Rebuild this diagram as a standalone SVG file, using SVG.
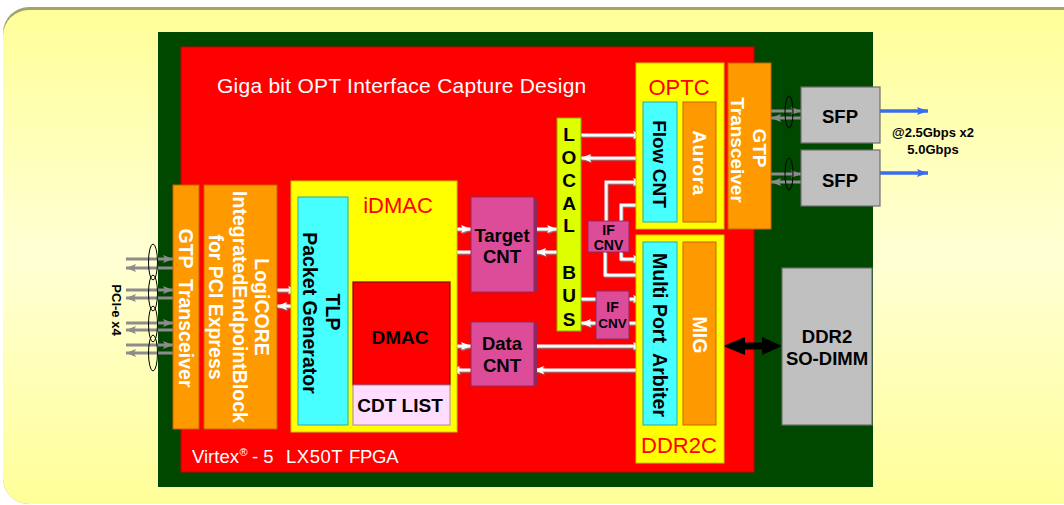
<svg xmlns="http://www.w3.org/2000/svg" width="1064" height="505" viewBox="0 0 1064 505">
<defs>
<linearGradient id="bg" x1="0" y1="0" x2="0" y2="1">
<stop offset="0" stop-color="#FFFF99"/>
<stop offset="0.5" stop-color="#FFFFD4"/>
<stop offset="1" stop-color="#FFFF99"/>
</linearGradient>
<filter id="sh" x="-20%" y="-20%" width="140%" height="140%">
<feDropShadow dx="1" dy="1.2" stdDeviation="0.3" flood-color="#8a8a8a" flood-opacity="1"/>
</filter>
<marker id="wa" markerUnits="userSpaceOnUse" markerWidth="11" markerHeight="10" refX="10" refY="5" orient="auto">
<path d="M0,1 L10,5 L0,9 L2,5 Z" fill="#FFFFFF"/>
</marker>
<marker id="ga" markerUnits="userSpaceOnUse" markerWidth="11" markerHeight="10" refX="10" refY="5" orient="auto">
<path d="M0,1 L10,5 L0,9 L2,5 Z" fill="#8C8C8C"/>
</marker>
<marker id="ba" markerUnits="userSpaceOnUse" markerWidth="12" markerHeight="10" refX="11" refY="5" orient="auto">
<path d="M0,1 L11,5 L0,9 L2,5 Z" fill="#3A6CF0"/>
</marker>
<style>
text{font-family:"Liberation Sans",Arial,Helvetica,sans-serif}
.b{font-weight:bold}
.wt{fill:#FFFFFF}
.bk{fill:#000000}
.rd{fill:#FF0000}
.yel{fill:#FFFF00;stroke:#C8C800;stroke-width:1}
.cy{fill:#48FFFF;stroke:#2AA8A8;stroke-width:1}
.or{fill:#FF9900;stroke:#C86400;stroke-width:1}
.pk{fill:#DD4C98;stroke:#8E2A62;stroke-width:1}
.gr{fill:#C0C0C0;stroke:#6E6E6E;stroke-width:1.2}
.w{fill:none;stroke:#FFFFFF;stroke-width:3}
.wm{marker-end:url(#wa)}
.g{fill:none;stroke:#8C8C8C;stroke-width:3;marker-end:url(#ga)}
.bl{fill:none;stroke:#3A6CF0;stroke-width:3.5;marker-end:url(#ba)}
.el{fill:none;stroke:#000000;stroke-width:1}
</style>
</defs>

<g id="background">
<rect x="3" y="7" width="1110" height="497" rx="26" fill="#A3A36B"/>
<rect x="3" y="10" width="1110" height="494" rx="26" fill="url(#bg)"/>
</g>

<g id="board">
<rect x="158" y="32" width="715" height="455" fill="#004800"/>
</g>

<g id="fpga">
<rect x="181" y="47" width="573" height="425" fill="#FF0000" stroke="#C80000" stroke-width="1"/>
<text x="217" y="93" class="wt" font-size="21" letter-spacing="0.25">Giga bit OPT Interface Capture Design</text>
<text y="463" class="wt" font-size="18.5"><tspan x="192">Virtex</tspan><tspan x="239.5" font-size="11" dy="-7">®</tspan><tspan x="252" dy="7">- 5</tspan><tspan x="286" letter-spacing="0.5">LX50T</tspan><tspan x="349" letter-spacing="-0.3">FPGA</tspan></text>
</g>

<g id="connectors">
<g filter="url(#sh)">
<path class="w wm" d="M348,229 H471"/>
<path class="w wm" d="M471,252 H348"/>
<path class="w wm" d="M534,229 H557"/>
<path class="w wm" d="M557,252 H536"/>
<path class="w wm" d="M450,346 H471"/>
<path class="w wm" d="M471,370 H450"/>
<path class="w wm" d="M534,346 H643"/>
<path class="w wm" d="M643,370 H534"/>
<path class="w wm" d="M581,135 H643"/>
<path class="w wm" d="M643,158 H581"/>
<path class="w wm" d="M606,221 V182 H643"/>
<path class="w" d="M643,205 H621 V221"/>
<path class="w wm" d="M621,252 V259 H643"/>
<path class="w" d="M643,275 H605 V252"/>
<path class="w wm" d="M581,299 H643"/>
<path class="w wm" d="M643,323 H581"/>
<path class="w wm" d="M277,290 H298"/>
<path class="w wm" d="M298,306 H277"/>
</g>
<path class="g" d="M126,259 H173"/>
<path class="g" d="M173,268 H126"/>
<path class="g" d="M126,290 H173"/>
<path class="g" d="M173,298 H126"/>
<path class="g" d="M126,323 H173"/>
<path class="g" d="M173,330 H126"/>
<path class="g" d="M126,345 H173"/>
<path class="g" d="M173,353 H126"/>
<path class="g" d="M771,111 H801"/>
<path class="g" d="M801,118 H771"/>
<path class="g" d="M771,174 H801"/>
<path class="g" d="M801,182 H771"/>
<path class="bl" d="M880,111 H928"/>
<path class="bl" d="M880,173 H928"/>
<path d="M723,346 L745,337 L745,342.5 L762,342.5 L762,337 L782,346 L762,355 L762,349.5 L745,349.5 L745,355 Z" fill="#000000"/>
<ellipse class="el" cx="153" cy="262" rx="4.5" ry="18"/>
<ellipse class="el" cx="153" cy="293" rx="4.5" ry="18"/>
<ellipse class="el" cx="153" cy="324" rx="4.5" ry="18"/>
<ellipse class="el" cx="153" cy="353" rx="4.5" ry="18"/>
<ellipse class="el" cx="789" cy="112" rx="4" ry="16"/>
<ellipse class="el" cx="789" cy="174" rx="4" ry="16"/>
</g>

<g id="pcie-label">
<text transform="translate(116,310) rotate(90)" y="4.5" text-anchor="middle" class="b bk" font-size="13">PCI-e x4</text>
</g>

<g id="gtp-left">
<rect x="173" y="185" width="26" height="244" class="or"/>
<text transform="translate(186,308) rotate(90)" y="7" text-anchor="middle" class="b wt" font-size="19.5" xml:space="preserve">GTP  Transceiver</text>
</g>

<g id="logicore">
<rect x="204" y="185" width="73" height="244" class="or"/>
<text transform="translate(262,307) rotate(90)" y="7" text-anchor="middle" class="b wt" font-size="19.5">LogiCORE</text>
<text transform="translate(240,307) rotate(90)" y="7" text-anchor="middle" class="b wt" font-size="19.5">IntegratedEndpointBlock</text>
<text transform="translate(216,307) rotate(90)" y="7" text-anchor="middle" class="b wt" font-size="19.5">for PCI Express</text>
</g>

<g id="idmac">
<rect x="291" y="181" width="166" height="251" class="yel"/>
<text x="398" y="213" text-anchor="middle" class="rd" font-size="22">iDMAC</text>
</g>

<g id="tlp">
<rect x="298" y="197" width="50" height="228" class="cy"/>
<text transform="translate(333,312) rotate(90)" y="7" text-anchor="middle" class="b bk" font-size="19.5">TLP</text>
<text transform="translate(310,313) rotate(90)" y="7" text-anchor="middle" class="b bk" font-size="19.5">Packet Generator</text>
</g>

<g id="dmac">
<rect x="353" y="282" width="97" height="103" fill="#FF0000" stroke="#8E0000" stroke-width="1.2"/>
<text x="400" y="344" text-anchor="middle" class="b bk" font-size="19">DMAC</text>
</g>

<g id="cdt-list">
<rect x="353" y="385" width="97" height="40" fill="#FFDDFF" stroke="#B080B0" stroke-width="1"/>
<text x="400" y="412" text-anchor="middle" class="b bk" font-size="19">CDT LIST</text>
</g>

<g id="target-cnt">
<rect x="534" y="199" width="3" height="93" fill="#8E2A62"/>
<rect x="471" y="197" width="63" height="95" class="pk"/>
<text x="502" y="242" text-anchor="middle" class="b bk" font-size="18.5">Target</text>
<text x="502" y="263" text-anchor="middle" class="b bk" font-size="18.5">CNT</text>
</g>

<g id="data-cnt">
<rect x="534" y="324" width="3" height="62" fill="#8E2A62"/>
<rect x="471" y="322" width="63" height="64" class="pk"/>
<text x="502" y="350" text-anchor="middle" class="b bk" font-size="18.5">Data</text>
<text x="502" y="372" text-anchor="middle" class="b bk" font-size="18.5">CNT</text>
</g>

<g id="local-bus">
<rect x="557" y="118" width="24" height="213" fill="#DDFF00" stroke="#8FB000" stroke-width="1"/>
<text x="569" y="141" text-anchor="middle" class="b bk" font-size="19">L</text>
<text x="569" y="164" text-anchor="middle" class="b bk" font-size="19">O</text>
<text x="569" y="187" text-anchor="middle" class="b bk" font-size="19">C</text>
<text x="569" y="210" text-anchor="middle" class="b bk" font-size="19">A</text>
<text x="569" y="232" text-anchor="middle" class="b bk" font-size="19">L</text>
<text x="569" y="279" text-anchor="middle" class="b bk" font-size="19">B</text>
<text x="569" y="302" text-anchor="middle" class="b bk" font-size="19">U</text>
<text x="569" y="326" text-anchor="middle" class="b bk" font-size="19">S</text>
</g>

<g id="if-cnv-1">
<rect x="588" y="221" width="41" height="31" class="pk"/>
<text x="608.5" y="235" text-anchor="middle" class="b bk" font-size="14">IF</text>
<text x="608.5" y="250" text-anchor="middle" class="b bk" font-size="14">CNV</text>
</g>

<g id="if-cnv-2">
<rect x="596" y="291" width="33" height="48" class="pk"/>
<text x="612.5" y="312" text-anchor="middle" class="b bk" font-size="14">IF</text>
<text x="612.5" y="328" text-anchor="middle" class="b bk" font-size="13.5">CNV</text>
</g>

<g id="optc">
<rect x="636" y="63" width="88" height="166" class="yel"/>
<text x="679" y="95" text-anchor="middle" class="rd" font-size="22">OPTC</text>
</g>

<g id="flow-cnt">
<rect x="643" y="102" width="34" height="120" class="cy"/>
<text transform="translate(660,164) rotate(90)" y="7" text-anchor="middle" class="b bk" font-size="19">Flow CNT</text>
</g>

<g id="aurora">
<rect x="683" y="102" width="33" height="120" class="or"/>
<text transform="translate(699.5,163) rotate(90)" y="7" text-anchor="middle" class="b wt" font-size="19" letter-spacing="0.5">Aurora</text>
</g>

<g id="gtp-right">
<rect x="728" y="63" width="43" height="166" class="or"/>
<text transform="translate(760,148) rotate(90)" y="7" text-anchor="middle" class="b wt" font-size="19">GTP</text>
<text transform="translate(738,150) rotate(90)" y="7" text-anchor="middle" class="b wt" font-size="19">Transceiver</text>
</g>

<g id="ddr2c">
<rect x="636" y="235" width="88" height="228" class="yel"/>
<text x="679" y="453" text-anchor="middle" class="rd" font-size="22">DDR2C</text>
</g>

<g id="multi-port-arbiter">
<rect x="643" y="242" width="34" height="183" class="cy"/>
<text transform="translate(660,335) rotate(90)" y="7" text-anchor="middle" class="b bk" font-size="19.5" xml:space="preserve">Multi Port  Arbiter</text>
</g>

<g id="mig">
<rect x="683" y="242" width="33" height="183" class="or"/>
<text transform="translate(699.5,335) rotate(90)" y="7" text-anchor="middle" class="b wt" font-size="19.5">MIG</text>
</g>

<g id="so-dimm">
<rect x="782" y="268" width="90" height="157" class="gr"/>
<text x="827" y="343" text-anchor="middle" class="b bk" font-size="18.5">DDR2</text>
<text x="827" y="365" text-anchor="middle" class="b bk" font-size="18.5">SO-DIMM</text>
</g>

<g id="sfp-1">
<rect x="801" y="87" width="79" height="56" class="gr"/>
<text x="840" y="123" text-anchor="middle" class="b bk" font-size="18.5">SFP</text>
</g>

<g id="sfp-2">
<rect x="801" y="150" width="79" height="56" class="gr"/>
<text x="840" y="187" text-anchor="middle" class="b bk" font-size="18.5">SFP</text>
</g>

<g id="rate-label">
<text x="933" y="137" text-anchor="middle" class="b bk" font-size="13">@2.5Gbps x2</text>
<text x="933" y="154" text-anchor="middle" class="b bk" font-size="13">5.0Gbps</text>
</g>
</svg>
